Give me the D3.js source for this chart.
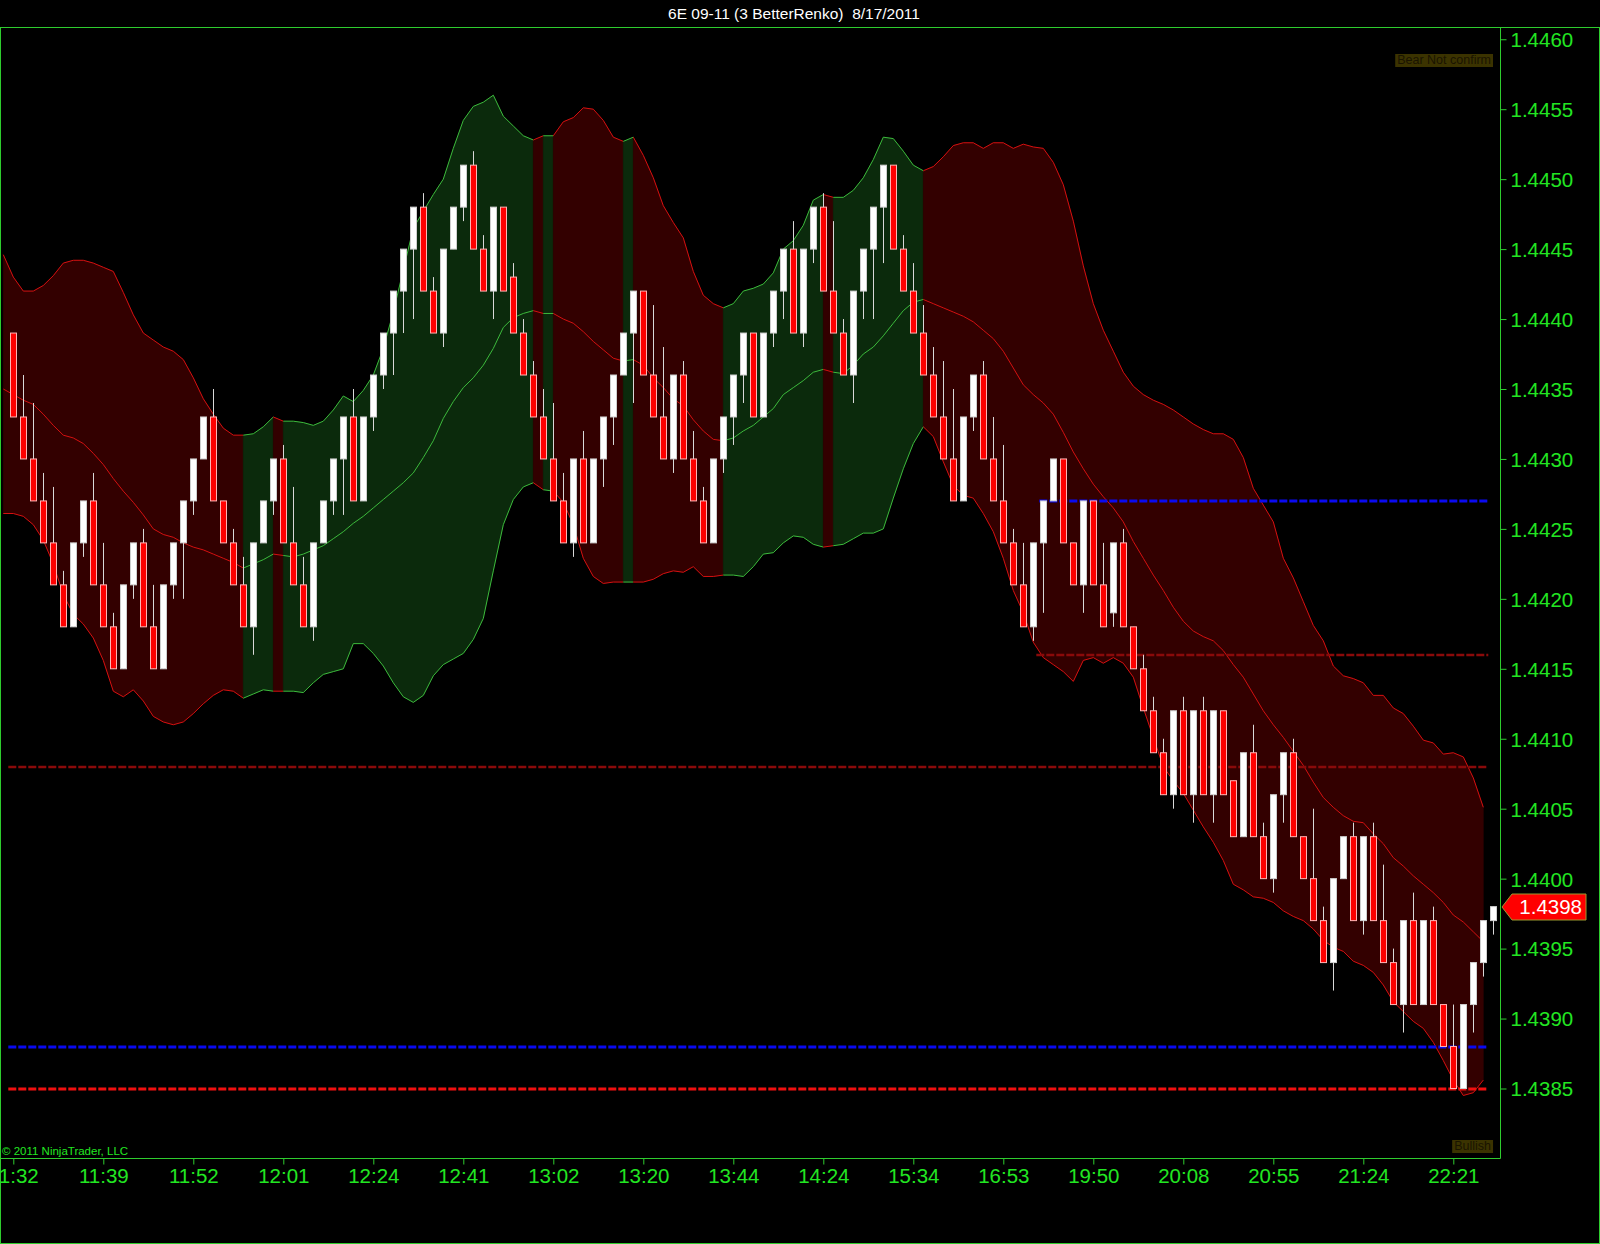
<!DOCTYPE html>
<html><head><meta charset="utf-8">
<script src="https://cdn.jsdelivr.net/npm/d3@7"></script>
<style>
html,body{margin:0;padding:0;background:#000;}
svg{display:block;}
text{font-family:Arial,"Liberation Sans",sans-serif;}
</style></head>
<body>
<svg id="c" width="1600" height="1244"></svg>
<script>
// ---------------- DATA ----------------
const title = "6E 09-11 (3 BetterRenko)  8/17/2011";
const tickBars = [0,9,18,27,36,45,54,63,72,81,90,99,108,117,126,135,144];
const tickLabels = ["11:32","11:39","11:52","12:01","12:24","12:41","13:02","13:20","13:44","14:24","15:34","16:53","19:50","20:08","20:55","21:24","22:21"];
const yTicks = [1.4460,1.4455,1.4450,1.4445,1.4440,1.4435,1.4430,1.4425,1.4420,1.4415,1.4410,1.4405,1.4400,1.4395,1.4390,1.4385];

const opens = [1.4439,1.4433,1.4430,1.4427,1.4424,1.4421,1.4418,1.4424,1.4427,1.4421,
1.4418,1.4415,1.4421,1.4424,1.4418,1.4415,1.4421,1.4424,1.4427,1.4430,
1.4433,1.4427,1.4424,1.4421,1.4418,1.4424,1.4427,1.4430,1.4424,1.4421,
1.4418,1.4424,1.4427,1.4430,1.4433,1.4427,1.4433,1.4436,1.4439,1.4442,
1.4445,1.4448,1.4442,1.4439,1.4445,1.4448,1.4451,1.4445,1.4442,1.4448,
1.4443,1.4439,1.4436,1.4433,1.4430,1.4427,1.4424,1.4430,1.4424,1.4430,
1.4433,1.4436,1.4439,1.4442,1.4436,1.4433,1.4430,1.4436,1.4430,1.4427,
1.4424,1.4430,1.4433,1.4436,1.4439,1.4433,1.4439,1.4442,1.4445,1.4439,
1.4445,1.4448,1.4442,1.4439,1.4436,1.4442,1.4445,1.4448,1.4451,1.4445,
1.4442,1.4439,1.4436,1.4433,1.4430,1.4427,1.4433,1.4436,1.4430,1.4427,
1.4424,1.4421,1.4418,1.4424,1.4427,1.4430,1.4424,1.4421,1.4427,1.4421,
1.4419,1.4424,1.4418,1.4415,1.4412,1.4409,1.4406,1.4412,1.4406,1.4412,
1.4406,1.4412,1.4407,1.4403,1.4409,1.4403,1.4400,1.4406,1.4409,1.4403,
1.4400,1.4397,1.4394,1.4400,1.4403,1.4397,1.4403,1.4397,1.4394,1.4391,
1.4397,1.4391,1.4397,1.4391,1.4388,1.4385,1.4391,1.4394,1.4397];
const closes = [1.4433,1.4430,1.4427,1.4424,1.4421,1.4418,1.4424,1.4427,1.4421,1.4418,
1.4415,1.4421,1.4424,1.4418,1.4415,1.4421,1.4424,1.4427,1.4430,1.4433,
1.4427,1.4424,1.4421,1.4418,1.4424,1.4427,1.4430,1.4424,1.4421,1.4418,
1.4424,1.4427,1.4430,1.4433,1.4427,1.4433,1.4436,1.4439,1.4442,1.4445,
1.4448,1.4442,1.4439,1.4445,1.4448,1.4451,1.4445,1.4442,1.4448,1.4442,
1.4439,1.4436,1.4433,1.4430,1.4427,1.4424,1.4430,1.4424,1.4430,1.4433,
1.4436,1.4439,1.4442,1.4436,1.4433,1.4430,1.4436,1.4430,1.4427,1.4424,
1.4430,1.4433,1.4436,1.4439,1.4433,1.4439,1.4442,1.4445,1.4439,1.4445,
1.4448,1.4442,1.4439,1.4436,1.4442,1.4445,1.4448,1.4451,1.4445,1.4442,
1.4439,1.4436,1.4433,1.4430,1.4427,1.4433,1.4436,1.4430,1.4427,1.4424,
1.4421,1.4418,1.4424,1.4427,1.4430,1.4424,1.4421,1.4427,1.4421,1.4418,
1.4424,1.4418,1.4415,1.4412,1.4409,1.4406,1.4412,1.4406,1.4412,1.4406,
1.4412,1.4406,1.4403,1.4409,1.4403,1.4400,1.4406,1.4409,1.4403,1.4400,
1.4397,1.4394,1.4400,1.4403,1.4397,1.4403,1.4397,1.4394,1.4391,1.4397,
1.4391,1.4397,1.4391,1.4388,1.4385,1.4391,1.4394,1.4397,1.4398];
const highs = [1.4439,1.4436,1.4434,1.4429,1.4428,1.4422,1.4424,1.4427,1.4429,1.4424,
1.4419,1.4421,1.4424,1.4425,1.4421,1.4421,1.4424,1.4427,1.4430,1.4433,
1.4435,1.4427,1.4425,1.4423,1.4424,1.4427,1.4430,1.4431,1.4428,1.4423,
1.4424,1.4427,1.4430,1.4433,1.4435,1.4433,1.4436,1.4439,1.4442,1.4445,
1.4448,1.4449,1.4443,1.4445,1.4448,1.4451,1.4452,1.4446,1.4448,1.4448,
1.4444,1.4440,1.4437,1.4435,1.4434,1.4429,1.4430,1.4432,1.4430,1.4433,
1.4436,1.4439,1.4442,1.4442,1.4441,1.4438,1.4436,1.4437,1.4432,1.4428,
1.4430,1.4433,1.4436,1.4439,1.4439,1.4439,1.4442,1.4445,1.4447,1.4445,
1.4448,1.4449,1.4447,1.4440,1.4442,1.4445,1.4448,1.4451,1.4451,1.4446,
1.4444,1.4441,1.4438,1.4437,1.4435,1.4433,1.4436,1.4437,1.4433,1.4431,
1.4425,1.4424,1.4424,1.4427,1.4430,1.4430,1.4424,1.4427,1.4427,1.4424,
1.4424,1.4425,1.4418,1.4416,1.4413,1.4410,1.4412,1.4413,1.4412,1.4413,
1.4412,1.4412,1.4407,1.4409,1.4411,1.4404,1.4406,1.4409,1.4410,1.4403,
1.4405,1.4398,1.4400,1.4403,1.4404,1.4403,1.4404,1.4401,1.4395,1.4397,
1.4399,1.4397,1.4398,1.4391,1.4391,1.4391,1.4394,1.4397,1.4398];
const lows = [1.4433,1.4430,1.4427,1.4424,1.4421,1.4418,1.4418,1.4423,1.4421,1.4418,
1.4415,1.4415,1.4420,1.4418,1.4415,1.4415,1.4420,1.4420,1.4426,1.4430,
1.4427,1.4424,1.4421,1.4418,1.4416,1.4424,1.4426,1.4424,1.4421,1.4418,
1.4417,1.4424,1.4426,1.4426,1.4427,1.4427,1.4432,1.4435,1.4436,1.4439,
1.4440,1.4442,1.4439,1.4438,1.4445,1.4447,1.4445,1.4442,1.4440,1.4442,
1.4439,1.4436,1.4433,1.4430,1.4427,1.4424,1.4423,1.4424,1.4424,1.4428,
1.4431,1.4436,1.4434,1.4436,1.4433,1.4430,1.4429,1.4430,1.4427,1.4424,
1.4424,1.4429,1.4431,1.4434,1.4433,1.4433,1.4438,1.4440,1.4439,1.4438,
1.4444,1.4442,1.4439,1.4436,1.4434,1.4440,1.4440,1.4444,1.4445,1.4442,
1.4439,1.4436,1.4433,1.4430,1.4427,1.4427,1.4432,1.4430,1.4427,1.4424,
1.4421,1.4418,1.4417,1.4419,1.4427,1.4424,1.4421,1.4419,1.4421,1.4418,
1.4418,1.4418,1.4415,1.4412,1.4409,1.4406,1.4405,1.4406,1.4404,1.4406,
1.4404,1.4406,1.4403,1.4403,1.4403,1.4400,1.4399,1.4404,1.4403,1.4400,
1.4397,1.4394,1.4392,1.4400,1.4397,1.4396,1.4397,1.4394,1.4391,1.4389,
1.4391,1.4391,1.4391,1.4388,1.4385,1.4385,1.4389,1.4393,1.4396];

// Bands: first value belongs to bar -1, last to bar 147
const bandFirstBar = -1;
const upper = [1.44446,
1.44430,1.44420,1.44420,1.44424,1.44431,1.44440,1.44442,1.44442,1.44440,1.44437,
1.44434,1.44419,1.44403,1.44390,1.44385,1.44380,1.44377,1.44371,1.44358,1.44343,
1.44332,1.44322,1.44317,1.44317,1.44318,1.44323,1.44330,1.44327,1.44327,1.44326,
1.44324,1.44327,1.44335,1.44345,1.44341,1.44349,1.44360,1.44379,1.44405,1.44435,
1.44465,1.44477,1.44489,1.44500,1.44522,1.44542,1.44552,1.44555,1.44560,1.44545,
1.44538,1.44531,1.44528,1.44531,1.44531,1.44541,1.44544,1.44551,1.44550,1.44542,
1.44530,1.44527,1.44530,1.44517,1.44501,1.44481,1.44469,1.44458,1.44434,1.44417,
1.44411,1.44408,1.44411,1.44420,1.44422,1.44425,1.44433,1.44450,1.44456,1.44467,
1.44485,1.44489,1.44487,1.44487,1.44492,1.44501,1.44514,1.44530,1.44529,1.44520,
1.44510,1.44506,1.44509,1.44516,1.44524,1.44526,1.44526,1.44522,1.44526,1.44526,
1.44522,1.44525,1.44523,1.44522,1.44512,1.44496,1.44470,1.44438,1.44411,1.44392,
1.44377,1.44362,1.44352,1.44346,1.44342,1.44339,1.44335,1.44330,1.44325,1.44321,
1.44318,1.44318,1.44314,1.44301,1.44279,1.44267,1.44255,1.44229,1.44215,1.44198,
1.44181,1.44170,1.44152,1.44145,1.44143,1.44140,1.44131,1.44131,1.44122,1.44118,
1.44109,1.44099,1.44097,1.44089,1.44090,1.44087,1.44072,1.44051];
const middle = [1.44350,
1.44346,1.44342,1.44339,1.44332,1.44324,1.44317,1.44315,1.44311,1.44304,1.44296,
1.44286,1.44277,1.44269,1.44260,1.44250,1.44246,1.44244,1.44240,1.44237,1.44235,
1.44232,1.44229,1.44226,1.44222,1.44225,1.44228,1.44232,1.44231,1.44230,1.44232,
1.44235,1.44238,1.44243,1.44248,1.44254,1.44259,1.44265,1.44271,1.44277,1.44283,
1.44290,1.44301,1.44313,1.44329,1.44341,1.44351,1.44358,1.44367,1.44379,1.44394,
1.44401,1.44404,1.44406,1.44404,1.44404,1.44400,1.44397,1.44391,1.44384,1.44378,
1.44372,1.44370,1.44371,1.44367,1.44358,1.44351,1.44343,1.44338,1.44328,1.44320,
1.44314,1.44313,1.44315,1.44320,1.44324,1.44330,1.44336,1.44346,1.44351,1.44356,
1.44362,1.44364,1.44362,1.44361,1.44367,1.44375,1.44380,1.44388,1.44397,1.44406,
1.44412,1.44414,1.44411,1.44408,1.44405,1.44402,1.44398,1.44392,1.44386,1.44377,
1.44365,1.44353,1.44346,1.44340,1.44332,1.44319,1.44305,1.44293,1.44282,1.44273,
1.44265,1.44255,1.44241,1.44229,1.44217,1.44206,1.44194,1.44184,1.44177,1.44173,
1.44170,1.44163,1.44153,1.44144,1.44132,1.44120,1.44110,1.44101,1.44091,1.44081,
1.44069,1.44058,1.44051,1.44045,1.44041,1.44040,1.44032,1.44025,1.44015,1.44009,
1.44002,1.43996,1.43990,1.43983,1.43974,1.43969,1.43962,1.43955];
const lower = [1.44261,
1.44261,1.44259,1.44253,1.44242,1.44225,1.44203,1.44189,1.44182,1.44172,1.44156,
1.44134,1.44130,1.44135,1.44127,1.44116,1.44112,1.44110,1.44112,1.44118,1.44125,
1.44131,1.44135,1.44134,1.44129,1.44132,1.44135,1.44134,1.44134,1.44134,1.44133,
1.44140,1.44146,1.44148,1.44150,1.44168,1.44168,1.44161,1.44152,1.44140,1.44130,
1.44126,1.44131,1.44145,1.44153,1.44157,1.44161,1.44171,1.44186,1.44220,1.44253,
1.44271,1.44280,1.44283,1.44278,1.44277,1.44269,1.44253,1.44229,1.44216,1.44211,
1.44212,1.44212,1.44212,1.44212,1.44214,1.44218,1.44220,1.44219,1.44223,1.44216,
1.44216,1.44217,1.44217,1.44216,1.44223,1.44232,1.44233,1.44240,1.44245,1.44244,
1.44239,1.44237,1.44238,1.44239,1.44243,1.44247,1.44247,1.44250,1.44272,1.44293,
1.44311,1.44323,1.44316,1.44298,1.44281,1.44274,1.44272,1.44261,1.44248,1.44229,
1.44206,1.44190,1.44169,1.44158,1.44153,1.44148,1.44141,1.44156,1.44158,1.44154,
1.44158,1.44154,1.44144,1.44122,1.44101,1.44080,1.44070,1.44061,1.44049,1.44037,
1.44026,1.44013,1.43996,1.43992,1.43987,1.43986,1.43983,1.43977,1.43973,1.43970,
1.43964,1.43956,1.43951,1.43948,1.43941,1.43938,1.43933,1.43924,1.43912,1.43905,
1.43898,1.43893,1.43883,1.43870,1.43856,1.43845,1.43847,1.43856];

// Trend state runs: [firstBar, lastBar, state]
const trendRuns = [[0,23,"dn"],[24,26,"up"],[27,27,"dn"],[28,52,"up"],[53,53,"dn"],[54,54,"up"],
[55,61,"dn"],[62,62,"up"],[63,71,"dn"],[72,81,"up"],[82,82,"dn"],[83,91,"up"],[92,147,"dn"]];

// Horizontal levels
const levelPrices = [1.4427, 1.4416, 1.4408, 1.4388, 1.4385];
const levelStartBars = [102.6, 102.3, -0.5, -0.5, -0.5];
const levelEndBar = 147.5;
const levelKinds = ["blue","darkred","darkred","blue","red"];

const lastPrice = 1.4398;
const topLabel = "Bear Not confirm";
const bottomLabel = "Bullish";
const copyright = "\u00A9 2011 NinjaTrader, LLC";

// ---------------- DRAW ----------------
const W = 1600, H = 1244;
const plotL = 0, plotR = 1500, plotT = 27, plotB = 1158;
const GREEN_TXT = "#22e622", GREEN_LINE = "#2ecc2e";

const svg = d3.select("#c");
svg.append("rect").attr("width",W).attr("height",H).attr("fill","#000");

const x = d3.scaleLinear().domain([0,148]).range([13.3,1493.3]);
const y = d3.scaleLinear().domain([1.4385,1.4460]).range([1088.5,39.25]);

svg.append("defs").append("clipPath").attr("id","plot")
  .append("rect").attr("x",plotL+1).attr("y",plotT+1).attr("width",plotR-plotL-1).attr("height",plotB-plotT-1);
const g = svg.append("g").attr("clip-path","url(#plot)");

const styles = {
  dn:{fill:"#330000", line:"#d41010"},
  up:{fill:"#0b2a0c", line:"#3cba3c"}
};

function runPoints(a,b){
  return d3.range(a-1,b+1).map(bar=>{
    const k = bar - bandFirstBar;
    return {bar, u:upper[k], m:middle[k], l:lower[k]};
  });
}
trendRuns.forEach(([a,b,s])=>{
  g.append("path").datum(runPoints(a,b))
    .attr("fill",styles[s].fill)
    .attr("stroke",styles[s].fill).attr("stroke-width",0.6)
    .attr("d",d3.area().x(d=>x(d.bar)).y0(d=>y(d.l)).y1(d=>y(d.u)));
});
trendRuns.forEach(([a,b,s])=>{
  const pts = runPoints(a,b);
  ["u","m","l"].forEach(key=>{
    g.append("path").datum(pts).attr("fill","none")
      .attr("stroke",styles[s].line).attr("stroke-width",1)
      .attr("d",d3.line().x(d=>x(d.bar)).y(d=>y(d[key])));
  });
});

// levels
const levelStyle = {
  blue:{c:"#0a0af0", w:3},
  darkred:{c:"#8a0a0a", w:2.5},
  red:{c:"#f01010", w:3}
};
levelPrices.forEach((p,i)=>{
  const st = levelStyle[levelKinds[i]];
  g.append("line")
    .attr("x1",x(levelStartBars[i])).attr("x2",x(levelEndBar))
    .attr("y1",Math.round(y(p))).attr("y2",Math.round(y(p)))
    .attr("stroke",st.c).attr("stroke-width",st.w)
    .attr("stroke-dasharray","8,2");
});

// candles
const candles = opens.map((o,i)=>({i,o,c:closes[i],h:highs[i],l:lows[i]}));
const cg = g.append("g");
candles.forEach(d=>{
  const cx = Math.round(x(d.i))+0.5;
  cg.append("line").attr("x1",cx).attr("x2",cx)
    .attr("y1",y(d.h)).attr("y2",y(d.l))
    .attr("stroke","#d8d8d8").attr("stroke-width",1);
  const up = d.c >= d.o;
  const top = y(Math.max(d.o,d.c)), bot = y(Math.min(d.o,d.c));
  cg.append("rect")
    .attr("x",cx-3).attr("y",top).attr("width",6).attr("height",Math.max(1,bot-top))
    .attr("fill",up?"#ffffff":"#ff0000")
    .attr("stroke",up?"#cfcfcf":"#ffb4b4").attr("stroke-width",1);
});

// labels inside plot
function tagBox(txt, xr, ybase){
  const t = svg.append("text").attr("x",xr).attr("y",ybase).attr("text-anchor","end")
    .attr("font-size",12.5).attr("fill","#1a1400").text(txt);
  const bb = t.node().getBBox();
  svg.insert("rect", function(){return t.node();})
    .attr("x",bb.x-2).attr("y",bb.y+1).attr("width",bb.width+4).attr("height",bb.height-1)
    .attr("fill","#3b3300");
}
tagBox(topLabel, 1491, 64);
tagBox(bottomLabel, 1491, 1150);

svg.append("text").attr("x",2).attr("y",1155).attr("font-size",11.5)
  .attr("fill",GREEN_TXT).text(copyright);

// axes lines
svg.append("line").attr("x1",plotR+0.5).attr("x2",plotR+0.5).attr("y1",plotT).attr("y2",plotB+0.5)
  .attr("stroke",GREEN_LINE).attr("stroke-width",1);
svg.append("line").attr("x1",0).attr("x2",plotR+0.5).attr("y1",plotB+0.5).attr("y2",plotB+0.5)
  .attr("stroke",GREEN_LINE).attr("stroke-width",1);
// outer frame
svg.append("rect").attr("x",0.5).attr("y",27.5).attr("width",W-1).attr("height",H-28)
  .attr("fill","none").attr("stroke",GREEN_LINE).attr("stroke-width",1);

// y axis
const yAxis = d3.axisRight(y).tickValues(yTicks).tickFormat(d3.format(".4f")).tickSize(6).tickPadding(4);
const ya = svg.append("g").attr("transform",`translate(${plotR+0.5},0)`).call(yAxis);
ya.select(".domain").remove();
ya.selectAll(".tick line").attr("stroke",GREEN_LINE);
ya.selectAll(".tick text").attr("fill",GREEN_TXT).attr("font-size",20.5)
  .attr("font-family","Arial, 'Liberation Sans', sans-serif").attr("dy","0.36em");

// x axis
const xAxis = d3.axisBottom(x).tickValues(tickBars).tickFormat((d,i)=>tickLabels[i]).tickSize(6).tickPadding(4);
const xa = svg.append("g").attr("transform",`translate(0,${plotB+0.5})`).call(xAxis);
xa.select(".domain").remove();
xa.selectAll(".tick line").attr("stroke",GREEN_LINE);
xa.selectAll(".tick text").attr("fill",GREEN_TXT).attr("font-size",20.5)
  .attr("font-family","Arial, 'Liberation Sans', sans-serif").attr("dy","0.72em");

// last price marker
const py = Math.round(y(lastPrice));
svg.append("path")
  .attr("d",`M${plotR+2},${py} L${plotR+12},${py-13} L${plotR+86},${py-13} L${plotR+86},${py+13} L${plotR+12},${py+13} Z`)
  .attr("fill","#ff0000").attr("stroke","#9a9a30").attr("stroke-width",1);
svg.append("text").attr("x",plotR+82).attr("y",py).attr("dy","0.36em").attr("text-anchor","end")
  .attr("font-size",20.5).attr("fill","#ffffff").text(d3.format(".4f")(lastPrice));

// title
svg.append("text").attr("x",794).attr("y",19).attr("text-anchor","middle")
  .attr("font-size",15.5).attr("fill","#ffffff")
  .attr("xml:space","preserve").style("white-space","pre").text(title);
</script>
</body></html>
